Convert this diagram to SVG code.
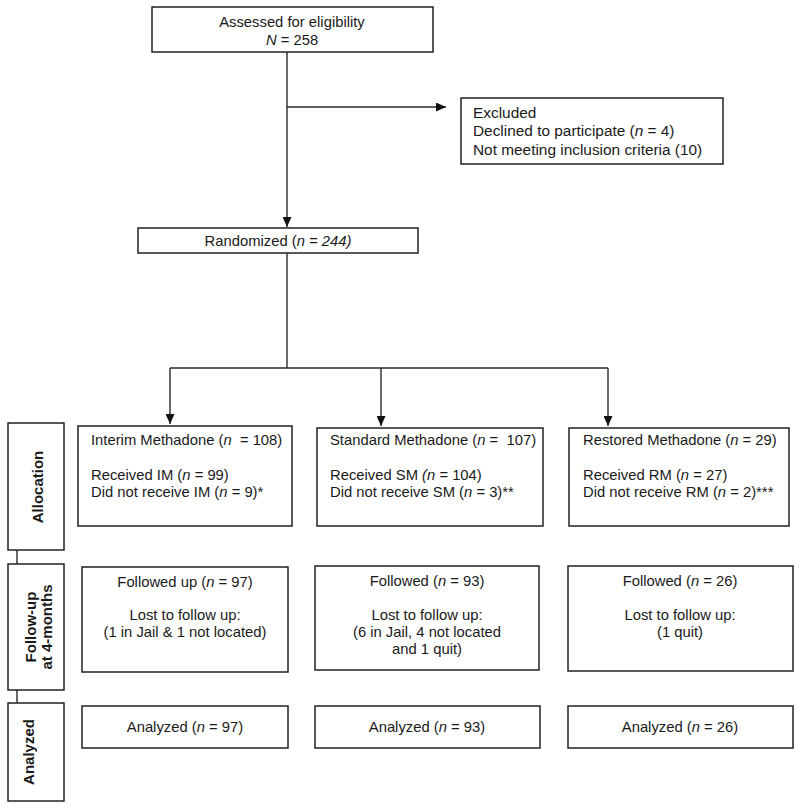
<svg xmlns="http://www.w3.org/2000/svg" width="800" height="810" viewBox="0 0 800 810">
<style>
  .box{fill:#fff;stroke:#222;stroke-width:1.5}
  .t{font-family:"Liberation Sans",Arial,sans-serif;font-size:14.8px;fill:#1a1a1a;white-space:pre}
  .x{font-size:15.4px}
  .c{text-anchor:middle}
  .s{font-family:"Liberation Sans",Arial,sans-serif;font-size:15px;font-weight:bold;fill:#1a1a1a;text-anchor:middle}
  .ln{stroke:#2a2a2a;stroke-width:1.4;fill:none}
</style>
<defs>
  <marker id="ah" viewBox="0 0 10 10" refX="10" refY="5" markerWidth="10" markerHeight="9" markerUnits="userSpaceOnUse" orient="auto" preserveAspectRatio="none">
    <path d="M0,0 L10,5 L0,10 Z" fill="#111"/>
  </marker>
</defs>
<rect width="800" height="810" fill="#fff"/>

<g id="connectors">
  <line class="ln" x1="287" y1="52" x2="287" y2="227" marker-end="url(#ah)"/>
  <line class="ln" x1="287" y1="107" x2="446" y2="107" marker-end="url(#ah)"/>
  <line class="ln" x1="287" y1="253" x2="287" y2="368"/>
  <line class="ln" x1="170" y1="368" x2="608" y2="368"/>
  <line class="ln" x1="170" y1="368" x2="170" y2="424" marker-end="url(#ah)"/>
  <line class="ln" x1="381" y1="368" x2="381" y2="426" marker-end="url(#ah)"/>
  <line class="ln" x1="608" y1="368" x2="608" y2="426" marker-end="url(#ah)"/>
  <line class="ln" x1="17" y1="550" x2="17" y2="564"/>
  <line class="ln" x1="17" y1="690" x2="17" y2="703"/>
</g>

<g id="assessed">
  <rect class="box" x="152" y="7" width="281" height="45"/>
  <text class="t c" x="292" y="27">Assessed for eligibility</text>
  <text class="t c" x="292" y="45"><tspan font-style="italic">N</tspan> = 258</text>
</g>

<g id="excluded">
  <rect class="box" x="461" y="98" width="262" height="66"/>
  <text class="t x" x="473" y="118">Excluded</text>
  <text class="t x" x="473" y="136">Declined to participate (<tspan font-style="italic">n</tspan> = 4)</text>
  <text class="t x" x="473" y="155">Not meeting inclusion criteria (10)</text>
</g>

<g id="randomized">
  <rect class="box" x="138" y="228" width="280" height="25"/>
  <text class="t c" x="278" y="246">Randomized (<tspan font-style="italic">n = 244)</tspan></text>
</g>

<g id="side-allocation">
  <rect class="box" x="8" y="423" width="56" height="127"/>
  <text class="s" transform="translate(43,487) rotate(-90)">Allocation</text>
</g>
<g id="side-followup">
  <rect class="box" x="8" y="564" width="56" height="126"/>
  <text class="s" transform="translate(36,627) rotate(-90)">Follow-up</text>
  <text class="s" transform="translate(52,627) rotate(-90)">at 4-months</text>
</g>
<g id="side-analyzed">
  <rect class="box" x="8" y="703" width="56" height="98"/>
  <text class="s" transform="translate(34,752) rotate(-90)">Analyzed</text>
</g>

<g id="alloc-im">
  <rect class="box" x="78" y="426" width="214" height="100"/>
  <text class="t" x="91" y="445">Interim Methadone (<tspan font-style="italic">n</tspan>  = 108)</text>
  <text class="t" x="91" y="480">Received IM (<tspan font-style="italic">n</tspan> = 99)</text>
  <text class="t" x="91" y="497">Did not receive IM (<tspan font-style="italic">n</tspan> = 9)*</text>
</g>
<g id="alloc-sm">
  <rect class="box" x="317" y="428" width="226" height="98"/>
  <text class="t" x="330" y="445">Standard Methadone (<tspan font-style="italic">n</tspan> =  107)</text>
  <text class="t" x="330" y="480">Received SM <tspan font-style="italic">(n</tspan> = 104)</text>
  <text class="t" x="330" y="497">Did not receive SM (<tspan font-style="italic">n</tspan> = 3)**</text>
</g>
<g id="alloc-rm">
  <rect class="box" x="569" y="428" width="220" height="98"/>
  <text class="t" x="583" y="445">Restored Methadone (<tspan font-style="italic">n</tspan> = 29)</text>
  <text class="t" x="583" y="480">Received RM (<tspan font-style="italic">n</tspan> = 27)</text>
  <text class="t" x="583" y="497">Did not receive RM (<tspan font-style="italic">n</tspan> = 2)***</text>
</g>

<g id="follow-im">
  <rect class="box" x="82" y="567" width="206" height="105"/>
  <text class="t c" x="185" y="587">Followed up (<tspan font-style="italic">n</tspan> = 97)</text>
  <text class="t c" x="185" y="620">Lost to follow up:</text>
  <text class="t c" x="185" y="637">(1 in Jail &amp; 1 not located)</text>
</g>
<g id="follow-sm">
  <rect class="box" x="315" y="566" width="224" height="104"/>
  <text class="t c" x="427" y="586">Followed (<tspan font-style="italic">n</tspan> = 93)</text>
  <text class="t c" x="427" y="620">Lost to follow up:</text>
  <text class="t c" x="427" y="637">(6 in Jail, 4 not located</text>
  <text class="t c" x="427" y="654">and 1 quit)</text>
</g>
<g id="follow-rm">
  <rect class="box" x="568" y="566" width="225" height="105"/>
  <text class="t c" x="680" y="586">Followed (<tspan font-style="italic">n</tspan> = 26)</text>
  <text class="t c" x="680" y="620">Lost to follow up:</text>
  <text class="t c" x="680" y="637">(1 quit)</text>
</g>

<g id="analyzed-im">
  <rect class="box" x="82" y="706" width="206" height="42"/>
  <text class="t c" x="185" y="732">Analyzed (<tspan font-style="italic">n</tspan> = 97)</text>
</g>
<g id="analyzed-sm">
  <rect class="box" x="315" y="706" width="225" height="42"/>
  <text class="t c" x="427" y="732">Analyzed (<tspan font-style="italic">n</tspan> = 93)</text>
</g>
<g id="analyzed-rm">
  <rect class="box" x="568" y="706" width="225" height="42"/>
  <text class="t c" x="680" y="732">Analyzed (<tspan font-style="italic">n</tspan> = 26)</text>
</g>
</svg>
